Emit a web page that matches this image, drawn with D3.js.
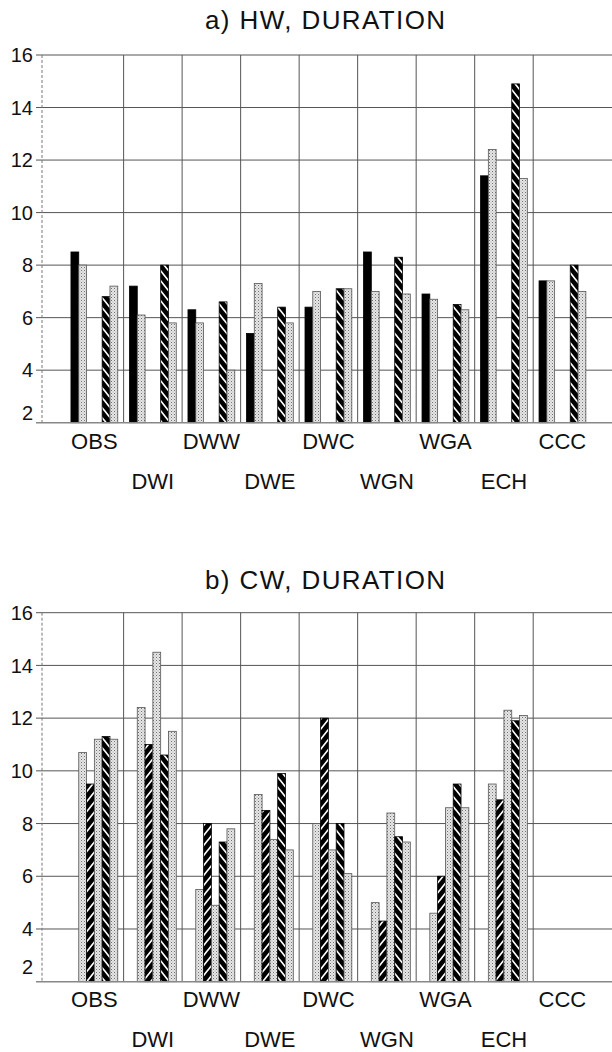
<!DOCTYPE html>
<html>
<head>
<meta charset="utf-8">
<script src="https://cdn.jsdelivr.net/npm/d3@7"></script>
<style>
  html, body { margin: 0; padding: 0; background: #fff; }
  svg { display: block; font-family: "Liberation Sans", Arial, Helvetica, sans-serif; }
</style>
</head>
<body>
<svg id="chart" width="612" height="1052"></svg>
<script>
// ---------- data ----------
const categories = ["OBS", "DWI", "DWW", "DWE", "DWC", "WGN", "WGA", "ECH", "CCC"];
const slots = [0, 1, 2, 3, 4, 5];
const yTicks = [2, 4, 6, 8, 10, 12, 14, 16];

// panel a) HW, DURATION  (slot 0 black, slot 1 stipple, slot 4 hatched \, slot 5 stipple)
const hwBlack   = [8.5, 7.2, 6.3, 5.4, 6.4, 8.5, 6.9, 11.4, 7.4];
const hwGray1   = [8.0, 6.1, 5.8, 7.3, 7.0, 7.0, 6.7, 12.4, 7.4];
const hwHatch   = [6.8, 8.0, 6.6, 6.4, 7.1, 8.3, 6.5, 14.9, 8.0];
const hwGray2   = [7.2, 5.8, 4.0, 5.8, 7.1, 6.9, 6.3, 11.3, 7.0];

// panel b) CW, DURATION (slots 1..5)
const cwGray1   = [10.7, 12.4, 5.5, 9.1, 8.0, 5.0, 4.6, 9.5, null];
const cwHatchF  = [9.5, 11.0, 8.0, 8.5, 12.0, 4.3, 6.0, 8.9, null];
const cwGray2   = [11.2, 14.5, 4.9, 7.4, 7.0, 8.4, 8.6, 12.3, null];
const cwHatchB  = [11.3, 10.6, 7.3, 9.9, 8.0, 7.5, 9.5, 11.9, null];
const cwGray3   = [11.2, 11.5, 7.8, 7.0, 6.1, 7.3, 8.6, 12.1, null];

const panels = [
  { title: "a) HW, DURATION", top: 55, bottom: 422.7, titleY: 29, twoShift: -10,
    row1: 26.5, row2: 66.5,
    series: [
      { slot: 0, fill: "black",  values: hwBlack },
      { slot: 1, fill: "gray",   values: hwGray1 },
      { slot: 4, fill: "hatchB", values: hwHatch },
      { slot: 5, fill: "gray",   values: hwGray2 }
    ] },
  { title: "b) CW, DURATION", top: 612.7, bottom: 981.7, titleY: 589, twoShift: -15,
    row1: 25.7, row2: 65,
    series: [
      { slot: 1, fill: "gray",   values: cwGray1 },
      { slot: 2, fill: "hatchF", values: cwHatchF },
      { slot: 3, fill: "gray",   values: cwGray2 },
      { slot: 4, fill: "hatchB", values: cwHatchB },
      { slot: 5, fill: "gray",   values: cwGray3 }
    ] }
];

// ---------- drawing ----------
const svg = d3.select("#chart");
const W = 612;
const axisX = 42;

const defs = svg.append("defs");
// stipple gray
const pg = defs.append("pattern").attr("id", "gray").attr("patternUnits", "userSpaceOnUse")
  .attr("width", 3).attr("height", 3);
pg.append("rect").attr("width", 3).attr("height", 3).attr("fill", "#e6e6e6");
pg.append("rect").attr("x", 0).attr("y", 0).attr("width", 1).attr("height", 1).attr("fill", "#707070");
pg.append("rect").attr("x", 1.5).attr("y", 1.5).attr("width", 1).attr("height", 1).attr("fill", "#a8a8a8");
// hatch "\"
const hb = defs.append("pattern").attr("id", "hatchB").attr("patternUnits", "userSpaceOnUse")
  .attr("width", 8).attr("height", 10);
hb.append("rect").attr("width", 8).attr("height", 10).attr("fill", "#000");
hb.append("path").attr("d", "M-1.6,-2 L9.6,12 M-9.6,-2 L1.6,12 M6.4,-2 L17.6,12")
  .attr("stroke", "#fff").attr("stroke-width", 1.7);
// hatch "/"
const hf = defs.append("pattern").attr("id", "hatchF").attr("patternUnits", "userSpaceOnUse")
  .attr("width", 8).attr("height", 10);
hf.append("rect").attr("width", 8).attr("height", 10).attr("fill", "#000");
hf.append("path").attr("d", "M-1.6,12 L9.6,-2 M-9.6,12 L1.6,-2 M6.4,12 L17.6,-2")
  .attr("stroke", "#fff").attr("stroke-width", 1.7);

const x0 = d3.scaleBand().domain(categories).range([65.1, 591.7]).padding(0);
const x1 = d3.scaleBand().domain(slots).range([0, x0.bandwidth()]).paddingInner(0).paddingOuter(0.75);

panels.forEach(p => {
  const g = svg.append("g");
  const y = d3.scaleLinear().domain([2, 16]).range([p.bottom, p.top]);

  // title
  g.append("text").attr("x", 205).attr("y", p.titleY).attr("text-anchor", "start")
    .attr("font-size", 26).attr("letter-spacing", 1.4).attr("fill", "#111").text(p.title);

  // horizontal grid
  g.selectAll("line.hg").data(yTicks.filter(t => t > 2)).enter().append("line")
    .attr("x1", 36).attr("x2", W).attr("y1", d => y(d)).attr("y2", d => y(d))
    .attr("stroke", "#555").attr("stroke-width", 1);

  // vertical grid at group boundaries
  g.selectAll("line.vg").data(categories.slice(1)).enter().append("line")
    .attr("x1", d => x0(d)).attr("x2", d => x0(d))
    .attr("y1", y(16)).attr("y2", y(2))
    .attr("stroke", "#555").attr("stroke-width", 1);

  // left axis (dotted)
  g.append("line").attr("x1", axisX).attr("x2", axisX).attr("y1", y(16)).attr("y2", y(2))
    .attr("stroke", "#777").attr("stroke-width", 1).attr("stroke-dasharray", "3,2");

  // y tick labels
  g.selectAll("text.yt").data(yTicks).enter().append("text")
    .attr("x", 33).attr("y", d => y(d) + (d === 2 ? p.twoShift : 0))
    .attr("dy", "0.36em").attr("text-anchor", "end")
    .attr("font-size", 20).attr("fill", "#111").text(d => d);

  // bars
  p.series.forEach(s => {
    g.selectAll(null).data(categories.map((c, i) => ({ c, v: s.values[i] })).filter(d => d.v != null))
      .enter().append("rect")
      .attr("x", d => x0(d.c) + x1(s.slot))
      .attr("width", x1.bandwidth())
      .attr("y", d => y(d.v))
      .attr("height", d => y(2) - y(d.v))
      .attr("fill", s.fill === "black" ? "#000" : `url(#${s.fill})`)
      .attr("stroke", s.fill === "gray" ? "#555" : "#000")
      .attr("stroke-width", 0.8);
  });

  // bottom axis
  g.append("line").attr("x1", 36).attr("x2", W).attr("y1", y(2)).attr("y2", y(2))
    .attr("stroke", "#888").attr("stroke-width", 1.5);

  // category labels in two staggered rows, centred on their groups
  g.selectAll("text.cat").data(categories).enter().append("text")
    .attr("x", d => x0(d) + x0.bandwidth() / 2)
    .attr("y", (d, i) => y(2) + (i % 2 === 0 ? p.row1 : p.row2))
    .attr("text-anchor", "middle").attr("font-size", 22).attr("fill", "#111")
    .text(d => d);
});
</script>
</body>
</html>
